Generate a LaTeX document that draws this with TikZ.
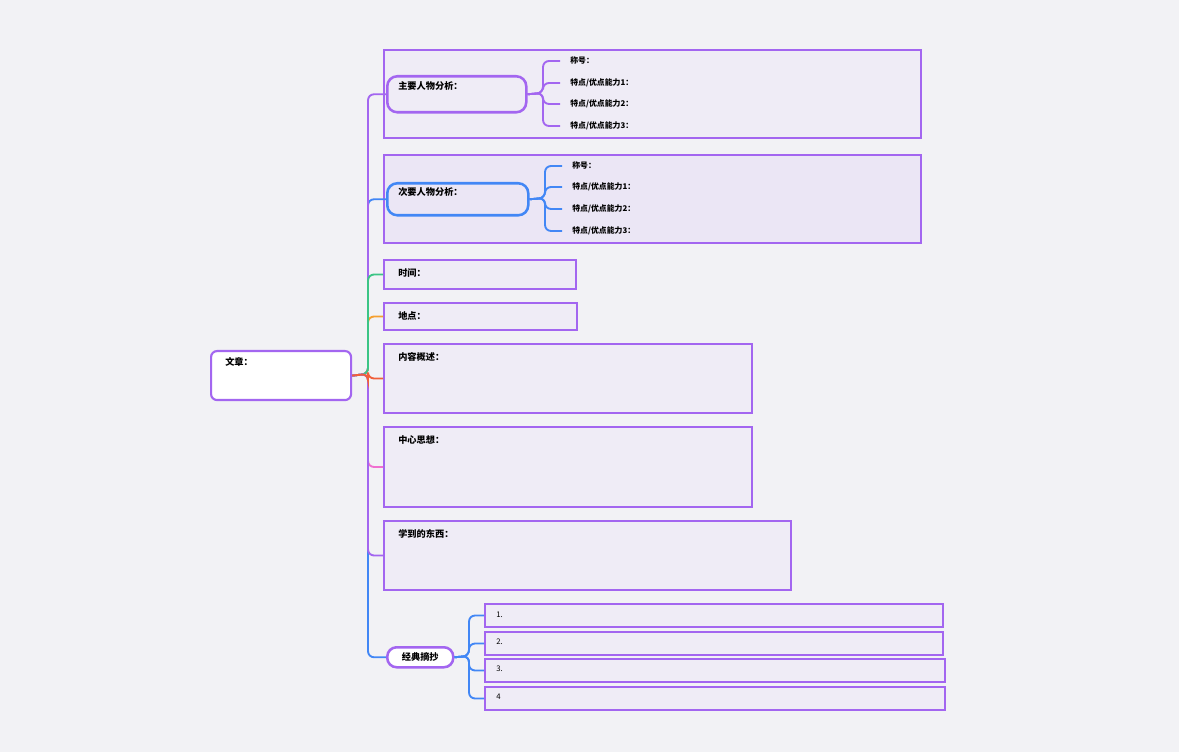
\documentclass[tikz,border=0pt]{standalone}
\usepackage{fontspec}
\setmainfont{Noto Sans CJK SC}
\usetikzlibrary{positioning}
\definecolor{bgc}{HTML}{F2F2F5}
\definecolor{lpurple}{HTML}{EFECF6}
\definecolor{lpurpleb}{HTML}{EBE6F5}
\definecolor{purp}{HTML}{A366F0}
\definecolor{blu}{HTML}{4287F5}
\definecolor{grn}{HTML}{3CC585}
\definecolor{orng}{HTML}{F5A030}
\definecolor{redd}{HTML}{F0603A}
\definecolor{pnk}{HTML}{F070D0}

\begin{document}
\begin{tikzpicture}[x=0.75pt, y=-0.75pt,
	box/.style = {draw = purp, line width = 1.5pt, fill = lpurple, anchor = north west, inner sep = 0pt},
	child/.style = {draw = purp, line width = 1.9pt, fill = lpurple, rounded corners = 7.5pt, anchor = north west, inner sep = 0pt},
	title/.style = {anchor = west, inner sep = 0pt, font = \fontsize{6.9pt}{7.5pt}\selectfont\bfseries},
	item/.style = {anchor = west, inner xsep = 7.5pt, inner ysep = 0pt, font = \fontsize{5.9pt}{6.5pt}\selectfont\bfseries},
	num/.style = {anchor = west, inner sep = 0pt, font = \fontsize{5.8pt}{6.5pt}\selectfont},
	br/.style = {line width = 1.4pt, rounded corners = 4.5pt}]
			\useasboundingbox[fill = bgc] (0,0) rectangle (1179,752);
			% boxes
			\node (mainbox) at (383,49) [box, minimum width = 402.75pt, minimum height = 66pt] {};
			\node (secbox) at (383,154) [box, fill = lpurpleb, minimum width = 402.75pt, minimum height = 66pt] {};
			\node (time) at (383,259) [box, minimum width = 144pt, minimum height = 21.75pt] {};
			\node (place) at (383,302) [box, minimum width = 144.75pt, minimum height = 20.25pt] {};
			\node (content) at (383,343) [box, minimum width = 276pt, minimum height = 51.75pt] {};
			\node (idea) at (383,426) [box, minimum width = 276pt, minimum height = 60pt] {};
			\node (learn) at (383,520) [box, minimum width = 305.25pt, minimum height = 51.75pt] {};
			\node (q1) at (484,603) [box, minimum width = 343.5pt, minimum height = 17.25pt] {};
			\node (q2) at (484,631) [box, minimum width = 343.5pt, minimum height = 17.25pt] {};
			\node (q3) at (484,658) [box, minimum width = 345pt, minimum height = 17.25pt] {};
			\node (q4) at (484,686) [box, minimum width = 345pt, minimum height = 17.25pt] {};
			\node (root) at (210,350) [child, fill = white, line width = 1.6pt, rounded corners = 4.5pt, minimum width = 105pt, minimum height = 36.75pt] {};
			\node (mainch) at (386,75) [child, minimum width = 104.25pt, minimum height = 27pt] {};
			\node (secch) at (386,182) [child, draw = blu, fill = lpurpleb, minimum width = 105.75pt, minimum height = 24pt] {};
			\node (quote) at (386,646) [child, fill = white, rounded corners = 7pt, minimum width = 49.5pt, minimum height = 15pt] {};
			% texts
			\node (troot) at (225,362) [title] {文章：};
			\node (tmain) at (398,86) [title] {主要人物分析：};
			\node (tsec) at (398,192) [title] {次要人物分析：};
			\node (ttime) at (398,273) [title] {时间：};
			\node (tplace) at (398,316) [title] {地点：};
			\node (tcontent) at (398,357) [title] {内容概述：};
			\node (tidea) at (398,440) [title] {中心思想：};
			\node (tlearn) at (398,534) [title] {学到的东西：};
			\node (tquote) at (quote.center) [title, anchor = center] {经典摘抄};
			\node (m1) at (560,61) [item] {称号：};
			\node (m2) at (560,83) [item] {特点/优点能力1：};
			\node (m3) at (560,104) [item] {特点/优点能力2：};
			\node (m4) at (560,126) [item] {特点/优点能力3：};
			\node (s1) at (562,166) [item] {称号：};
			\node (s2) at (562,187) [item] {特点/优点能力1：};
			\node (s3) at (562,209) [item] {特点/优点能力2：};
			\node (s4) at (562,231) [item] {特点/优点能力3：};
			\node (n1) at (496,615) [num] {1.};
			\node (n2) at (496,642) [num] {2.};
			\node (n3) at (496,669) [num] {3.};
			\node (n4) at (496,697) [num] {4};
			% trunk
			\draw[br, blu] (root.east) -- (368,374) |- (secch.west);
			\draw[br, purp] (root.east) -- (368,374) |- (mainch.west);
			\draw[br, orng] (root.east) -- (368,374) |- (place.west);
			\draw[br, grn] (root.east) -- (368,374) |- (time.west);
			\draw[br, blu] (root.east) -- (368,374) |- (quote.west);
			\draw[br, pnk] (root.east) -- (368,374) |- (idea.west);
			\draw[br, purp] (root.east) -- (368,374) |- (learn.west);
			\draw[br, redd] (root.east) -- (368,374) |- (content.west);
			% sub branches
			\foreach \n in {m1,m2,m3,m4}
				\draw[br, purp] (mainch.east) -- (543,93) |- (\n.west);
			\foreach \n in {s1,s2,s3,s4}
				\draw[br, blu] (secch.east) -- (545,198) |- (\n.west);
			\foreach \n in {q1,q2,q3,q4}
				\draw[br, blu] (quote.east) -- (469,656) |- (\n.west);
			\end{tikzpicture}
\end{document}
